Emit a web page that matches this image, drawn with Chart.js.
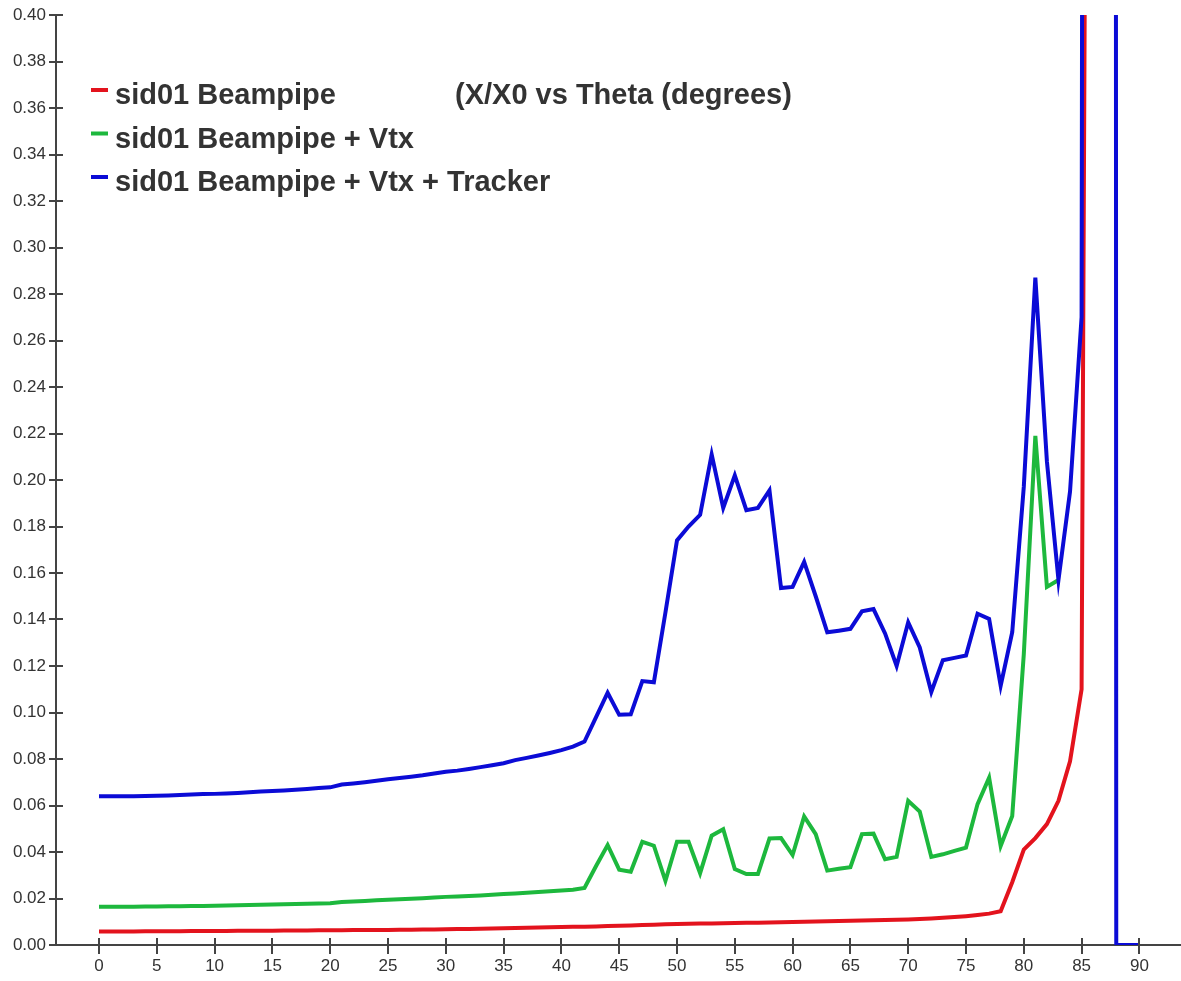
<!DOCTYPE html>
<html>
<head>
<meta charset="utf-8">
<title>X/X0 vs Theta</title>
<script src="https://cdn.jsdelivr.net/npm/chart.js@4.4.1/dist/chart.umd.min.js"></script>
<style>
  html, body { margin: 0; padding: 0; background: #ffffff; }
  #wrap { width: 1181px; height: 981px; }
</style>
</head>
<body>
<div id="wrap"><canvas id="chart" width="1181" height="981"></canvas></div>
<script>
// Polar angle in degrees, one sample per degree
const theta = [
  0, 1, 2, 3, 4, 5, 6, 7, 8, 9,
  10, 11, 12, 13, 14, 15, 16, 17, 18, 19,
  20, 21, 22, 23, 24, 25, 26, 27, 28, 29,
  30, 31, 32, 33, 34, 35, 36, 37, 38, 39,
  40, 41, 42, 43, 44, 45, 46, 47, 48, 49,
  50, 51, 52, 53, 54, 55, 56, 57, 58, 59,
  60, 61, 62, 63, 64, 65, 66, 67, 68, 69,
  70, 71, 72, 73, 74, 75, 76, 77, 78, 79,
  80, 81, 82, 83, 84, 85, 86, 87, 88, 89,
  90
];

// Radiation length fraction X/X0, beampipe only
const beampipe = [
  0.0058, 0.0058, 0.0058, 0.0058, 0.0059, 0.0059, 0.0059, 0.0059, 0.0060, 0.0060,
  0.0060, 0.0060, 0.0061, 0.0061, 0.0061, 0.0061, 0.0062, 0.0062, 0.0062, 0.0063,
  0.0063, 0.0063, 0.0064, 0.0064, 0.0065, 0.0065, 0.0066, 0.0066, 0.0067, 0.0067,
  0.0068, 0.0069, 0.0069, 0.0070, 0.0071, 0.0072, 0.0073, 0.0074, 0.0075, 0.0076,
  0.0077, 0.0078, 0.0079, 0.0080, 0.0082, 0.0083, 0.0084, 0.0086, 0.0087, 0.0089,
  0.0090, 0.0091, 0.0092, 0.0093, 0.0094, 0.0095, 0.0096, 0.0096, 0.0097, 0.0098,
  0.0099, 0.0100, 0.0101, 0.0102, 0.0103, 0.0104, 0.0105, 0.0106, 0.0107, 0.0109,
  0.0110, 0.0112, 0.0114, 0.0117, 0.0120, 0.0124, 0.0129, 0.0135, 0.0145, 0.0270,
  0.0410, 0.0460, 0.0520, 0.0620, 0.0790, 0.1100, 1.2000, null, null, null,
  null
];

// Beampipe plus vertex detector
const beampipeVtx = [
  0.0165, 0.0165, 0.0165, 0.0165, 0.0166, 0.0166, 0.0167, 0.0167, 0.0168, 0.0168,
  0.0169, 0.0170, 0.0171, 0.0172, 0.0173, 0.0174, 0.0175, 0.0176, 0.0177, 0.0178,
  0.0180, 0.0185, 0.0187, 0.0189, 0.0192, 0.0195, 0.0197, 0.0199, 0.0201, 0.0204,
  0.0207, 0.0209, 0.0211, 0.0213, 0.0216, 0.0219, 0.0222, 0.0225, 0.0228, 0.0231,
  0.0234, 0.0238, 0.0245, 0.0340, 0.0430, 0.0324, 0.0315, 0.0444, 0.0427, 0.0276,
  0.0444, 0.0444, 0.0309, 0.0470, 0.0498, 0.0327, 0.0305, 0.0305, 0.0458, 0.0460,
  0.0387, 0.0553, 0.0477, 0.0320, 0.0328, 0.0335, 0.0477, 0.0479, 0.0369, 0.0379,
  0.0620, 0.0574, 0.0379, 0.0390, 0.0405, 0.0419, 0.0606, 0.0720, 0.0426, 0.0555,
  0.1250, 0.2190, 0.1540, 0.1570, null, null, null, null, null, null,
  null
];

// Beampipe plus vertex detector plus tracker
const beampipeVtxTracker = [
  0.0640, 0.0640, 0.0640, 0.0640, 0.0641, 0.0642, 0.0643, 0.0645, 0.0647, 0.0649,
  0.0650, 0.0652, 0.0654, 0.0657, 0.0660, 0.0662, 0.0665, 0.0668, 0.0671, 0.0675,
  0.0678, 0.0690, 0.0695, 0.0700, 0.0706, 0.0713, 0.0718, 0.0724, 0.0730, 0.0738,
  0.0745, 0.0750, 0.0757, 0.0765, 0.0773, 0.0782, 0.0795, 0.0805, 0.0815, 0.0826,
  0.0838, 0.0853, 0.0875, 0.0980, 0.1085, 0.0990, 0.0992, 0.1135, 0.1130, 0.1430,
  0.1740, 0.1800, 0.1850, 0.2110, 0.1880, 0.2020, 0.1870, 0.1880, 0.1955, 0.1535,
  0.1540, 0.1648, 0.1500, 0.1345, 0.1352, 0.1360, 0.1435, 0.1445, 0.1340, 0.1200,
  0.1388, 0.1280, 0.1088, 0.1225, 0.1235, 0.1245, 0.1425, 0.1403, 0.1115, 0.1345,
  0.1970, 0.2870, 0.2080, 0.1570, 0.1950, 0.2700, 3.5000, 20.000, 0.0000, 0.0000,
  0.0000
];

const seriesLabels = [
  'sid01 Beampipe',
  'sid01 Beampipe + Vtx',
  'sid01 Beampipe + Vtx + Tracker'
];
const seriesColors = ['#e3131d', '#1db83d', '#0b0bd6'];
const plotTitle = '(X/X0 vs Theta (degrees)';

const xTicks = [0, 5, 10, 15, 20, 25, 30, 35, 40, 45, 50, 55, 60, 65, 70, 75, 80, 85, 90];
const yTicks = [0, 0.02, 0.04, 0.06, 0.08, 0.10, 0.12, 0.14, 0.16, 0.18, 0.20,
                0.22, 0.24, 0.26, 0.28, 0.30, 0.32, 0.34, 0.36, 0.38, 0.40];

const FONT = "'Liberation Sans', Arial, Helvetica, sans-serif";
const AXIS_COLOR = '#444444';
const TEXT_COLOR = '#333333';

function toPoints(values) {
  const pts = [];
  values.forEach((v, i) => { if (v !== null) pts.push({ x: theta[i], y: v }); });
  return pts;
}

// Tick marks that cross the axis line: Chart.js draws the outer part,
// this adds the short inner part.
const innerTicks = {
  id: 'innerTicks',
  afterDraw(chart) {
    const { ctx, chartArea, scales } = chart;
    ctx.save();
    ctx.strokeStyle = AXIS_COLOR;
    ctx.lineWidth = 2;
    ctx.beginPath();
    scales.x.ticks.forEach(t => {
      const px = Math.round(scales.x.getPixelForValue(t.value));
      ctx.moveTo(px, chartArea.bottom);
      ctx.lineTo(px, chartArea.bottom - 7);
    });
    scales.y.ticks.forEach(t => {
      const py = Math.round(scales.y.getPixelForValue(t.value));
      ctx.moveTo(chartArea.left, py);
      ctx.lineTo(chartArea.left + 7, py);
    });
    ctx.stroke();
    ctx.restore();
  }
};

// Key with short coloured strokes and the plot caption, inside the plot area
const seriesKey = {
  id: 'seriesKey',
  afterDraw(chart) {
    const { ctx, chartArea } = chart;
    ctx.save();
    ctx.font = 'bold 29px ' + FONT;
    ctx.textBaseline = 'alphabetic';
    ctx.textAlign = 'left';
    chart.data.datasets.forEach((ds, i) => {
      const base = chartArea.top + 89 + i * 43.5;
      ctx.strokeStyle = ds.borderColor;
      ctx.lineWidth = 4;
      ctx.beginPath();
      ctx.moveTo(chartArea.left + 35, base - 14);
      ctx.lineTo(chartArea.left + 52, base - 14);
      ctx.stroke();
      ctx.fillStyle = TEXT_COLOR;
      ctx.fillText(ds.label, chartArea.left + 59, base);
    });
    ctx.fillStyle = TEXT_COLOR;
    ctx.fillText(plotTitle, chartArea.left + 399, chartArea.top + 89);
    ctx.restore();
  }
};

const seriesValues = [beampipe, beampipeVtx, beampipeVtxTracker];

new Chart(document.getElementById('chart'), {
  type: 'line',
  data: {
    datasets: seriesLabels.map((label, i) => ({
      label,
      data: toPoints(seriesValues[i]),
      borderColor: seriesColors[i],
      backgroundColor: seriesColors[i],
      borderWidth: 4,
      pointRadius: 0,
      tension: 0,
      fill: false,
      order: 2 - i
    }))
  },
  options: {
    responsive: false,
    animation: false,
    devicePixelRatio: 1,
    layout: { padding: { top: 15, right: 0, bottom: 0, left: 0 } },
    plugins: {
      legend: { display: false },
      tooltip: { enabled: false },
      title: { display: false }
    },
    scales: {
      x: {
        type: 'linear',
        min: -3.72,
        max: 93.6,
        afterBuildTicks: axis => { axis.ticks = xTicks.map(v => ({ value: v })); },
        afterFit: axis => { axis.height = 36; },
        grid: {
          display: true,
          drawOnChartArea: false,
          drawTicks: true,
          tickLength: 9,
          color: AXIS_COLOR,
          lineWidth: 2
        },
        border: { display: true, color: AXIS_COLOR, width: 2 },
        ticks: {
          autoSkip: false,
          maxRotation: 0,
          padding: 2,
          color: TEXT_COLOR,
          font: { family: FONT, size: 17 },
          callback: v => String(v)
        }
      },
      y: {
        type: 'linear',
        min: 0,
        max: 0.40,
        afterBuildTicks: axis => { axis.ticks = yTicks.map(v => ({ value: v })); },
        afterFit: axis => { axis.width = 56; },
        grid: {
          display: true,
          drawOnChartArea: false,
          drawTicks: true,
          tickLength: 7,
          color: AXIS_COLOR,
          lineWidth: 2
        },
        border: { display: true, color: AXIS_COLOR, width: 2 },
        ticks: {
          autoSkip: false,
          padding: 3,
          color: TEXT_COLOR,
          font: { family: FONT, size: 17 },
          callback: v => v.toFixed(2)
        }
      }
    }
  },
  plugins: [innerTicks, seriesKey]
});
</script>
</body>
</html>
